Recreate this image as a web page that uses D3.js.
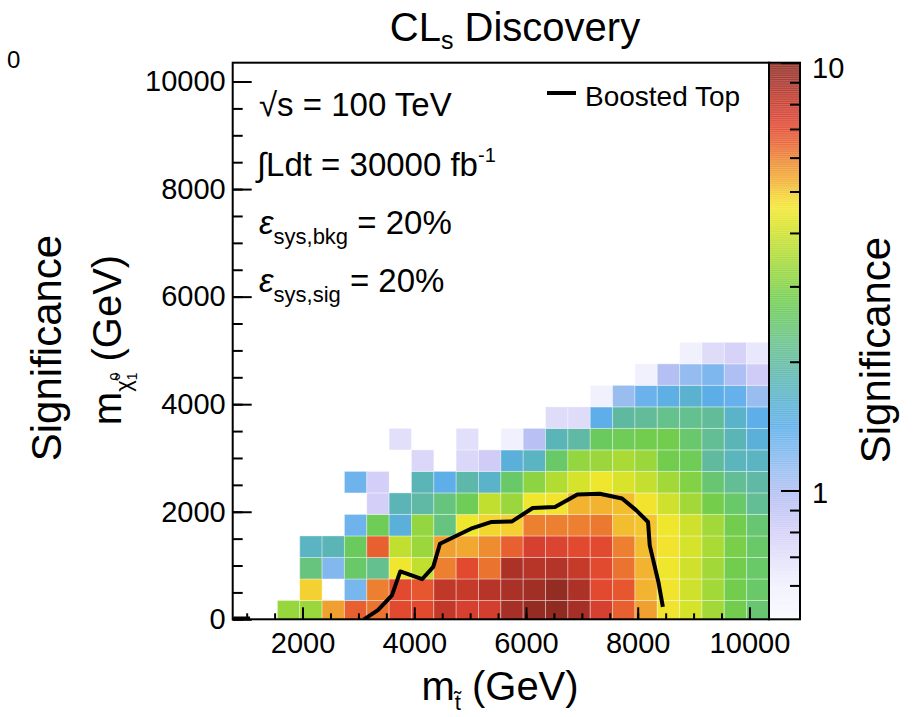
<!DOCTYPE html>
<html>
<head>
<meta charset="utf-8">
<script src="https://cdn.jsdelivr.net/npm/d3@7"></script>
<style>
  body { margin: 0; background: #fff; }
  text { font-family: "Liberation Sans", Arial, Helvetica, sans-serif; fill: #000; }
</style>
</head>
<body>
<svg id="chart" width="919" height="717"></svg>
<script>
// Stop mass bin centres (GeV), 400 GeV wide bins
const stopMass = [950, 1350, 1750, 2150, 2550, 2950, 3350, 3750, 4150, 4550, 4950, 5350,
                  5750, 6150, 6550, 6950, 7350, 7750, 8150, 8550, 8950, 9350, 9750, 10150];
// Neutralino mass bin centres (GeV)
const chiMass = [150, 550, 950, 1350, 1750, 2150, 2550, 2950, 3350, 3750, 4150, 4550, 4950];
const binWidth = 400;

// Discovery significance, one row per neutralino mass bin (null = no point)
const significance = [
  [null, null, 3.25, 3.3, 5.5, 6.5, 6.2, 7.0, 7.0, 8.1, 7.5, 7.6, 9.0, 9.6, 9.8, 9.0, 7.5, 6.5, 5.5, 4.6, 4.1, 3.4, 2.8, 2.4],
  [null, null, null, 4.9, null, 1.25, 6.0, 7.0, 6.7, 8.2, 8.0, 8.5, 8.9, 9.2, 9.7, 8.8, 7.0, 6.7, 5.2, 4.6, 4.0, 3.4, 2.8, 2.5],
  [null, null, null, 2.3, 1.2, 2.5, 2.15, 4.5, 3.8, 6.0, 7.0, 6.2, 8.8, 8.5, 8.6, 8.0, 7.0, 6.2, 5.2, 4.5, 4.0, 3.4, 2.8, 2.5],
  [null, null, null, 1.7, 1.8, 2.6, 6.5, 3.8, 3.3, 5.5, 5.4, 5.8, 6.5, 7.5, 7.3, 7.0, 7.0, 6.0, 5.1, 4.6, 4.1, 3.5, 2.9, 2.5],
  [null, null, null, null, null, 1.3, 2.7, 1.55, 3.2, 2.3, 4.5, 4.8, 4.9, 6.0, 6.0, 6.0, 6.1, 5.1, 5.0, 4.5, 4.0, 3.4, 2.8, 2.4],
  [null, null, null, null, null, null, 0.8, 1.8, 1.95, 2.3, 2.7, 3.8, 3.3, 4.5, 4.6, 5.2, 5.2, 5.1, 4.6, 4.0, 3.4, 2.85, 2.5, 2.1],
  [null, null, null, null, null, 1.3, 0.8, null, 1.8, 1.4, 1.9, 1.65, 2.5, 3.1, 3.6, 4.1, 4.5, 4.15, 3.85, 3.4, 3.0, 2.4, 2.1, 1.95],
  [null, null, null, null, null, null, null, null, 0.75, null, 0.75, 0.82, 1.55, 1.7, 2.5, 3.2, 3.3, 3.5, 3.3, 2.8, 2.7, 2.0, 1.75, 1.7],
  [null, null, null, null, null, null, null, 0.7, null, null, 0.7, null, 0.58, 0.95, 1.8, 1.95, 2.6, 2.7, 2.8, 2.8, 2.45, 2.1, 1.8, 1.55],
  [null, null, null, null, null, null, null, null, null, null, null, null, null, null, 0.72, 0.72, 1.4, 1.97, 2.05, 2.2, 2.15, 2.05, 1.65, 1.4],
  [null, null, null, null, null, null, null, null, null, null, null, null, null, null, null, null, 0.58, 1.1, 1.32, 1.45, 1.6, 1.42, 1.35, 1.1],
  [null, null, null, null, null, null, null, null, null, null, null, null, null, null, null, null, null, null, 0.58, 0.97, 1.12, 1.22, 1.0, 0.82],
  [null, null, null, null, null, null, null, null, null, null, null, null, null, null, null, null, null, null, null, null, 0.58, 0.72, 0.78, 0.65]
];

// Boosted Top 5 sigma contour (GeV)
const boostedTopStop = [3100, 3350, 3600, 3750, 3940, 4140, 4340, 4460, 4710, 5015, 5385, 5750, 6120, 6520, 6920, 7320, 7720, 7970, 8185, 8215, 8370, 8450];
const boostedTopChi  = [0, 170, 445, 890, 820, 745, 975, 1405, 1530, 1685, 1810, 1820, 2070, 2090, 2320, 2335, 2245, 2030, 1810, 1375, 695, 230];
const boostedTopLowStop = [760, 1060];
const boostedTopLowChi  = [15, 15];

const xTicks = [2000, 4000, 6000, 8000, 10000];
const yTicks = [0, 2000, 4000, 6000, 8000, 10000];
const zTicks = [1, 10];
const zMinorTicks = [0.6, 0.7, 0.8, 0.9, 2, 3, 4, 5, 6, 7, 8, 9];

// Colour palette (significance -> colour)
const paletteValues = [0.5, 0.6, 0.7, 0.8, 0.95, 1.1, 1.25, 1.4, 1.55, 1.7, 1.85, 2.0, 2.2, 2.4, 2.6, 2.85,
                       3.1, 3.35, 3.6, 3.9, 4.2, 4.55, 4.9, 5.2, 5.5, 6.0, 6.5, 7.0, 7.5, 8.2, 9.0, 10];
const paletteColors = ['#f8f8ff', '#f0f0fd', '#e2dffa', '#d3cff8', '#b8c0f4', '#9abdf0', '#78b6ee', '#5eaeea',
                       '#5ab0d8', '#5ab4c2', '#5cb6b0', '#60ba9e', '#66c28c', '#68c672', '#6aca5e', '#74ce4c',
                       '#8cd442', '#9ed83a', '#b2dc32', '#c8e02e', '#dce42a', '#f2e82e', '#f4d030', '#f2b430',
                       '#f0a030', '#ec8030', '#e86030', '#e24a30', '#d64030', '#c03828', '#a63028', '#8b2a20'];

const svg = d3.select('#chart');
const frame = { left: 232.7, right: 769, top: 62.7, bottom: 619.3 };
const bar = { left: 769, right: 800 };

const x = d3.scaleLinear().domain([750, 10350]).range([frame.left, frame.right]);
const y = d3.scaleLinear().domain([0, 10350]).range([frame.bottom, frame.top]);
const z = d3.scaleLog().domain([0.5, 10]).range([frame.bottom, frame.top]);
const color = d3.scaleLog().domain(paletteValues).range(paletteColors)
  .interpolate(d3.interpolateRgb).clamp(true);

svg.append('clipPath').attr('id', 'plotClip')
  .append('rect')
  .attr('x', frame.left).attr('y', frame.top)
  .attr('width', frame.right - frame.left).attr('height', frame.bottom - frame.top);

// Heat-map cells
const cells = [];
significance.forEach((row, j) => row.forEach((v, i) => {
  if (v !== null) cells.push({ mx: stopMass[i], my: chiMass[j], v });
}));

svg.append('g').attr('clip-path', 'url(#plotClip)')
  .selectAll('rect').data(cells).join('rect')
  .attr('x', d => x(d.mx - binWidth / 2))
  .attr('width', d => x(d.mx + binWidth / 2) - x(d.mx - binWidth / 2))
  .attr('y', d => y(d.my + binWidth / 2))
  .attr('height', d => y(d.my - binWidth / 2) - y(d.my + binWidth / 2))
  .attr('fill', d => color(d.v))
  .attr('stroke', 'rgba(255,255,255,0.35)')
  .attr('stroke-width', 1);

// Contour
const line = d3.line().x(d => x(d[0])).y(d => y(d[1]));
const plotG = svg.append('g').attr('clip-path', 'url(#plotClip)');
plotG.append('path')
  .attr('d', line(boostedTopStop.map((s, k) => [s, boostedTopChi[k]])))
  .attr('fill', 'none').attr('stroke', '#000').attr('stroke-width', 4)
  .attr('stroke-linejoin', 'round');
plotG.append('path')
  .attr('d', line(boostedTopLowStop.map((s, k) => [s, boostedTopLowChi[k]])))
  .attr('fill', 'none').attr('stroke', '#000').attr('stroke-width', 4);

// Frame
svg.append('rect')
  .attr('x', frame.left).attr('y', frame.top)
  .attr('width', frame.right - frame.left).attr('height', frame.bottom - frame.top)
  .attr('fill', 'none').attr('stroke', '#000').attr('stroke-width', 2);

// Axes with inward ticks
const xMinor = d3.range(1000, 10001, 500);
const yMinor = d3.range(0, 10001, 500);

function styleAxis(g) {
  g.select('.domain').remove();
  g.selectAll('line').attr('stroke', '#000').attr('stroke-width', 2);
}

svg.append('g').attr('transform', `translate(0,${frame.bottom})`)
  .call(d3.axisBottom(x).tickValues(xMinor).tickSize(-6).tickFormat(''))
  .call(styleAxis);
svg.append('g').attr('transform', `translate(0,${frame.bottom})`)
  .call(d3.axisBottom(x).tickValues(xTicks).tickSize(-12).tickPadding(13).tickFormat(d3.format('d')))
  .call(styleAxis)
  .selectAll('text').attr('font-size', 29).attr('font-family', '"Liberation Sans", Arial, sans-serif');

svg.append('g').attr('transform', `translate(${frame.left},0)`)
  .call(d3.axisLeft(y).tickValues(yMinor).tickSize(-10).tickFormat(''))
  .call(styleAxis);
svg.append('g').attr('transform', `translate(${frame.left},0)`)
  .call(d3.axisLeft(y).tickValues(yTicks).tickSize(-19).tickPadding(7).tickFormat(d3.format('d')))
  .call(styleAxis)
  .selectAll('text').attr('font-size', 29).attr('font-family', '"Liberation Sans", Arial, sans-serif');

// Colour bar
const barSteps = d3.range(0, 300).map(k => 0.5 * Math.pow(20, k / 300));
svg.append('g').selectAll('rect').data(barSteps).join('rect')
  .attr('x', bar.left).attr('width', bar.right - bar.left)
  .attr('y', d => z(d * Math.pow(20, 1 / 300)) - 0.5)
  .attr('height', d => z(d) - z(d * Math.pow(20, 1 / 300)) + 1)
  .attr('fill', d => color(d))
  .attr('fill-opacity', 0.75);
svg.append('rect')
  .attr('x', bar.left).attr('y', frame.top)
  .attr('width', bar.right - bar.left).attr('height', frame.bottom - frame.top)
  .attr('fill', 'none').attr('stroke', '#000').attr('stroke-width', 2);

svg.append('g').attr('transform', `translate(${bar.right},0)`)
  .call(d3.axisRight(z).tickValues(zMinorTicks).tickSize(-10).tickFormat(''))
  .call(styleAxis);
const zAxis = svg.append('g').attr('transform', `translate(${bar.right},0)`)
  .call(d3.axisRight(z).tickValues(zTicks).tickSize(-19).tickPadding(12).tickFormat(d3.format('d')))
  .call(styleAxis);
zAxis.selectAll('text').attr('font-size', 29).attr('font-family', '"Liberation Sans", Arial, sans-serif')
  .attr('dy', d => d === 10 ? '0.5em' : '0.4em');

// Title
const title = svg.append('text').attr('x', 515).attr('y', 41).attr('text-anchor', 'middle').attr('font-size', 40);
title.append('tspan').text('CL');
title.append('tspan').attr('font-size', 25).attr('dy', 8).text('s');
title.append('tspan').attr('dy', -8).text(' Discovery');

// Axis titles
const xt = svg.append('text').attr('x', 500).attr('y', 700).attr('text-anchor', 'middle').attr('font-size', 40);
xt.append('tspan').text('m');
xt.append('tspan').attr('font-size', 22).attr('dy', 10).text('t\u0303');
xt.append('tspan').attr('dy', -10).text(' (GeV)');

const yt = svg.append('text').attr('transform', 'translate(121,340) rotate(-90)')
  .attr('text-anchor', 'middle').attr('font-size', 40);
yt.append('tspan').text('m');
yt.append('tspan').attr('font-size', 22).attr('dy', 10).text('\u03c7\u0303');
yt.append('tspan').attr('font-size', 14).attr('dy', 6).text('1');
yt.append('tspan').attr('font-size', 14).attr('dx', -8).attr('dy', -17).text('0');
yt.append('tspan').attr('dy', 1).text(' (GeV)');

svg.append('text').attr('transform', 'translate(61,348) rotate(-90)')
  .attr('text-anchor', 'middle').attr('font-size', 42).text('Significance');
svg.append('text').attr('transform', 'translate(890,350) rotate(-90)')
  .attr('text-anchor', 'middle').attr('font-size', 42).text('Significance');
svg.append('text').attr('x', 7).attr('y', 68).attr('font-size', 24).text('0');

// Info text block
const info = svg.append('g').attr('font-size', 33);
const t1 = info.append('text').attr('x', 259).attr('y', 116);
t1.append('tspan').text('\u221as = 100 TeV');
const t2 = info.append('text').attr('x', 257).attr('y', 176);
t2.append('tspan').text('\u222bLdt = 30000 fb');
t2.append('tspan').attr('font-size', 20).attr('dy', -14).text('-1');
const t3 = info.append('text').attr('x', 259).attr('y', 234);
t3.append('tspan').attr('font-style', 'italic').text('\u03b5');
t3.append('tspan').attr('font-size', 22).attr('dy', 10).text('sys,bkg');
t3.append('tspan').attr('dy', -10).text(' = 20%');
const t4 = info.append('text').attr('x', 259).attr('y', 292);
t4.append('tspan').attr('font-style', 'italic').text('\u03b5');
t4.append('tspan').attr('font-size', 22).attr('dy', 10).text('sys,sig');
t4.append('tspan').attr('dy', -10).text(' = 20%');

// Legend
svg.append('line').attr('x1', 547).attr('x2', 576).attr('y1', 93).attr('y2', 93)
  .attr('stroke', '#000').attr('stroke-width', 4);
svg.append('text').attr('x', 585).attr('y', 106).attr('font-size', 28).text('Boosted Top');
</script>
</body>
</html>
